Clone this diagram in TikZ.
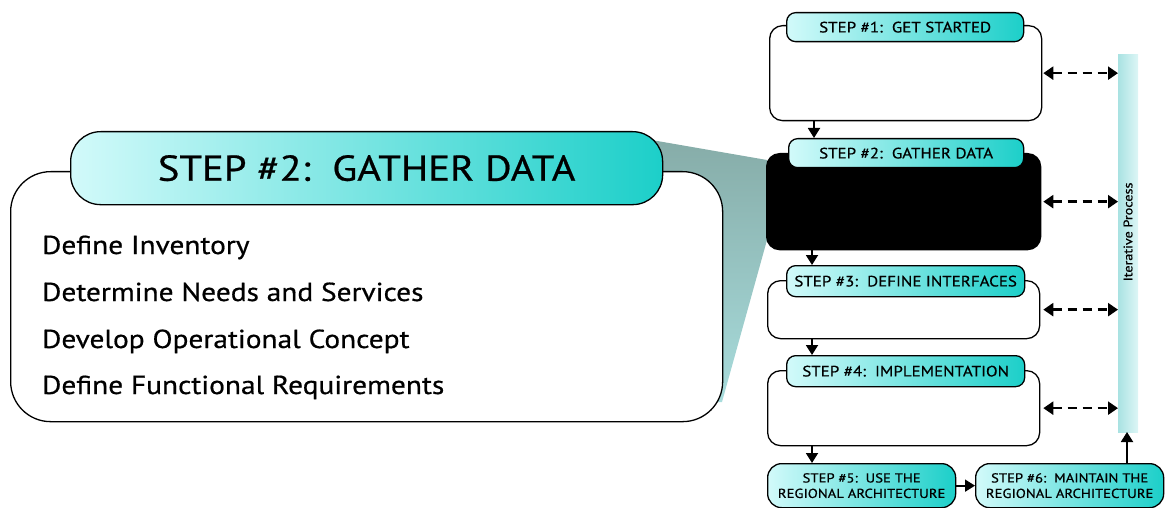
\documentclass[tikz,border=0pt]{standalone}
\usepackage{fontspec}
\setmainfont{PT Sans}[FakeStretch=1.13,FakeBold=0.6]
\usetikzlibrary{arrows.meta,calc}
\definecolor{tabL}{HTML}{D2FAFA}
\definecolor{tabR}{HTML}{1CCFC9}
\definecolor{wedgeT}{HTML}{86ACA8}
\definecolor{wedgeB}{HTML}{A8DCDC}
\definecolor{barL}{HTML}{A9E2E2}
\definecolor{barR}{HTML}{DDF6F6}
\tikzset{
  tab/.style={draw=black, line width=1.3pt, rounded corners=9pt, left color=tabL, right color=tabR,
    inner sep=0pt, anchor=north west, font=\fontsize{15}{17}\selectfont, align=center},
  stepbox/.style={draw=black, line width=1.3pt, rounded corners=13pt, fill=white, inner sep=0pt, anchor=north west},
  flow/.style={line width=1.8pt, -{Triangle[length=10pt,width=12pt]}},
  dasharrow/.style={line width=2.4pt, dash pattern=on 9pt off 6pt, {Triangle[length=10pt,width=13pt]}-{Triangle[length=10pt,width=13pt]}},
  item/.style={anchor=base west, inner sep=0pt, font=\fontsize{26}{30}\selectfont}
}
\begin{document}
\begin{tikzpicture}[x=1pt,y=-1pt]
\useasboundingbox (0,0) rectangle (1165,508);
% wedge (callout)
\shade[top color=wedgeT, bottom color=wedgeB] (640,138) -- (767,160) -- (767,240) -- (722,402) -- (690,402) -- (640,200) -- cycle;
% left callout
\node[stepbox, rounded corners=40pt, minimum width=712pt, minimum height=250pt] (big) at (10,171) {};
\node[tab, rounded corners=30pt, minimum width=592pt, minimum height=73pt, font=\fontsize{36}{40}\selectfont] (bigtab) at (70,131) {STEP \#2:\ \ GATHER DATA};
\node[item] (i1) at (42,254) {Define Inventory};
\node[item] (i2) at (42,301) {Determine Needs and Services};
\node[item] (i3) at (42,348) {Develop Operational Concept};
\node[item] (i4) at (42,394) {Define Functional Requirements};
% right flow
\node[stepbox, minimum width=272pt, minimum height=95pt] (s1) at (769,25) {};
\node[tab, minimum width=237pt, minimum height=29pt] (t1) at (786,12) {STEP \#1:\ \ GET STARTED};
\node[stepbox, fill=black, minimum width=274pt, minimum height=96pt] (s2) at (766,153) {};
\node[tab, minimum width=235pt, minimum height=29pt] (t2) at (788,138) {STEP \#2:\ \ GATHER DATA};
\node[stepbox, minimum width=272pt, minimum height=58pt] (s3) at (767,280) {};
\node[tab, minimum width=238pt, minimum height=31pt] (t3) at (786,265) {STEP \#3:\ \ DEFINE INTERFACES};
\node[stepbox, minimum width=272pt, minimum height=75pt] (s4) at (767,370) {};
\node[tab, minimum width=238pt, minimum height=31pt] (t4) at (786,355) {STEP \#4:\ \ IMPLEMENTATION};
\node[tab, rounded corners=14pt, minimum width=188pt, minimum height=44pt, font=\fontsize{13}{15.5}\selectfont] (s5) at (767,463) {STEP \#5:\ \ USE THE\\REGIONAL ARCHITECTURE};
\node[tab, rounded corners=14pt, minimum width=188pt, minimum height=44pt, font=\fontsize{13}{15.5}\selectfont] (s6) at (975,463) {STEP \#6:\ \ MAINTAIN THE\\REGIONAL ARCHITECTURE};
% iterative bar
\shade[left color=barL, right color=barR] (1118,55) rectangle (1138,432);
\coordinate (barS) at (1127,432);
\coordinate (barW) at (1118,240);
\node[rotate=90, font=\fontsize{12.5}{15}\selectfont, inner sep=0pt] (iter) at (1128,232) {Iterative Process};
% connectors
\draw[flow] ([xshift=45pt]s1.south west) -- ([xshift=45pt]s1.south west |- t2.north);
\draw[flow] ([xshift=46pt]s2.south west) -- ([xshift=46pt]s2.south west |- t3.north);
\draw[flow] ([xshift=45pt]s3.south west) -- ([xshift=45pt]s3.south west |- t4.north);
\draw[flow] ([xshift=45pt]s4.south west) -- ([xshift=45pt]s4.south west |- s5.north);
\draw[flow] (s5.east) -- (s6.west);
\draw[flow] (barS |- s6.north) -- (barS);
\draw[dasharrow] ([xshift=1pt]s1.east) -- (s1.east -| barW);
\draw[dasharrow] ([xshift=2pt]s2.east) -- (s2.east -| barW);
\draw[dasharrow] ([xshift=3pt]s3.east) -- (s3.east -| barW);
\draw[dasharrow] ([xshift=3pt]s4.east) -- (s4.east -| barW);
\end{tikzpicture}
\end{document}
